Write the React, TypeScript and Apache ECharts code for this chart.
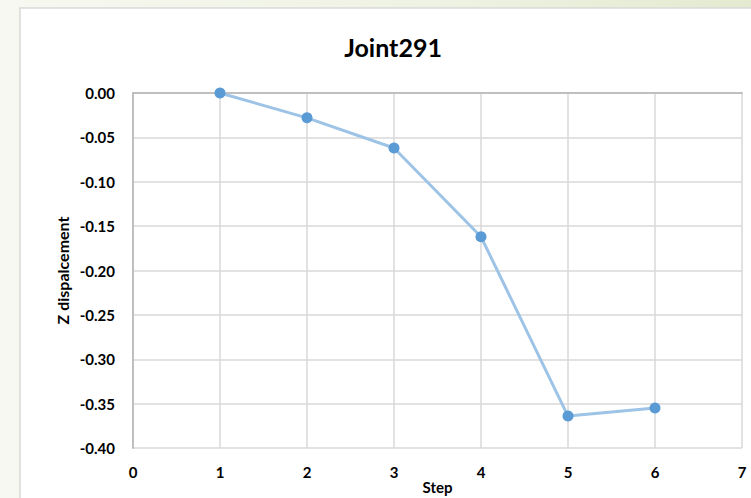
import React, { useEffect, useRef } from "react";
import * as echarts from "echarts";

const steps = [1, 2, 3, 4, 5, 6];
const zDisp = [0.0, -0.028, -0.062, -0.162, -0.364, -0.355];
const xTicks = [0, 1, 2, 3, 4, 5, 6, 7];
const yMin = -0.4;
const yMax = 0;
const title = "Joint291";
const xName = "Step";
const yName = "Z dispalcement";

const FONT = "Lato, 'Open Sans', sans-serif";

export default function App() {
  const ref = useRef<HTMLDivElement>(null);
  useEffect(() => {
    if (!ref.current) return;
    const chart = echarts.init(ref.current, null, { renderer: "svg" });
    chart.setOption({
      animation: false,
      backgroundColor: "transparent",
      graphic: [
        {
          type: "rect",
          z: -10,
          silent: true,
          shape: { x: 20, y: 8, width: 760, height: 520 },
          style: { fill: "#ffffff", stroke: "#d9d9d9", lineWidth: 1.5 },
        },
      ],
      title: {
        text: title,
        left: 388,
        textAlign: "center",
        top: 29,
        textStyle: { fontFamily: FONT, fontWeight: "bold", fontSize: 25, color: "#000" },
      },
      grid: { left: 133, right: 9, top: 93, bottom: 50, containLabel: false, outerBoundsMode: "none" },
      xAxis: [
        {
          type: "value",
          min: xTicks[0],
          max: xTicks[xTicks.length - 1],
          interval: 1,
          position: "bottom",
          name: xName,
          nameLocation: "middle",
          nameGap: 31,
          nameMoveOverlap: false,
          nameTextStyle: { fontFamily: FONT, fontWeight: "bold", fontSize: 15, color: "#000", lineHeight: 15 },
          axisLine: { show: false },
          axisTick: { show: false },
          axisLabel: { fontFamily: FONT, fontWeight: "bold", fontSize: 15, color: "#000", margin: 16 },
          splitLine: { show: true, lineStyle: { color: "#d9d9d9", width: 1.5 } },
        },
        {
          type: "value",
          min: xTicks[0],
          max: xTicks[xTicks.length - 1],
          interval: 1,
          position: "top",
          axisLine: { show: true, onZero: false, lineStyle: { color: "#bfbfbf", width: 2 } },
          axisTick: { show: false },
          axisLabel: { show: false },
          splitLine: { show: false },
        },
      ],
      yAxis: {
        type: "value",
        min: yMin,
        max: yMax,
        interval: 0.05,
        name: yName,
        nameLocation: "middle",
        nameGap: 63,
        nameRotate: 90,
        nameMoveOverlap: false,
        nameTextStyle: { fontFamily: FONT, fontWeight: "bold", fontSize: 16, color: "#000" },
        axisLine: { show: true, onZero: false, lineStyle: { color: "#bfbfbf", width: 2 } },
        axisTick: { show: false },
        axisLabel: {
          fontFamily: FONT,
          fontWeight: "bold",
          fontSize: 15,
          color: "#000",
          margin: 18,
          formatter: (v: number) => v.toFixed(2),
        },
        splitLine: { show: true, lineStyle: { color: "#d9d9d9", width: 1.5 } },
      },
      series: [
        {
          type: "line",
          xAxisIndex: 0,
          data: steps.map((s, i) => [s, zDisp[i]]),
          symbol: "circle",
          symbolSize: 11,
          lineStyle: { color: "#9dc3e6", width: 3 },
          itemStyle: { color: "#5b9bd5" },
        },
      ],
    });
    return () => chart.dispose();
  }, []);
  return (
    <div
      style={{
        position: "fixed",
        left: 0,
        top: 0,
        width: 751,
        height: 498,
        background: "linear-gradient(to right, #f7f8f1 0%, #eef2e2 60%, #e4ead0 100%)",
      }}
    >
      <div ref={ref} style={{ width: 751, height: 498 }} />
    </div>
  );
}
